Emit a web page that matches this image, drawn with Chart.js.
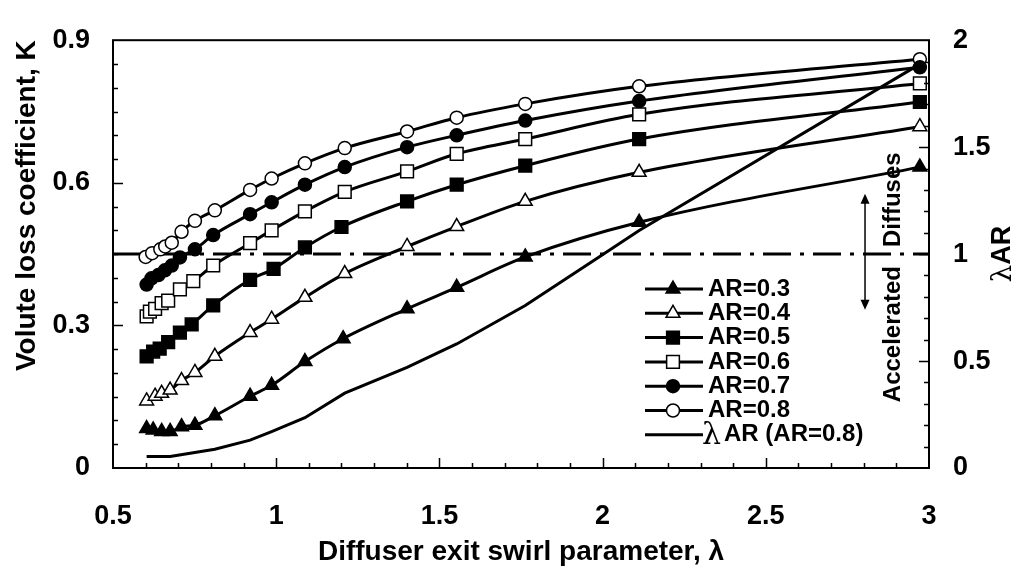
<!DOCTYPE html>
<html><head><meta charset="utf-8">
<script src="https://cdn.jsdelivr.net/npm/chart.js@4/dist/chart.umd.min.js"></script>
<style>html,body{margin:0;padding:0;background:#fff}canvas{display:block}</style>
</head><body>
<canvas id="c" width="1021" height="573"></canvas>
<script>
// ---- data ----
const lambdaAR03 = [0.603, 0.623, 0.649, 0.675, 0.710, 0.751, 0.812, 0.920, 0.986, 1.088, 1.205, 1.401, 1.553, 1.763, 2.112, 2.972];
const kAR03      = [0.083, 0.080, 0.077, 0.077, 0.087, 0.090, 0.110, 0.151, 0.174, 0.224, 0.272, 0.335, 0.380, 0.444, 0.517, 0.633];
const lambdaAR04 = [0.603, 0.629, 0.649, 0.675, 0.710, 0.751, 0.812, 0.920, 0.986, 1.088, 1.210, 1.401, 1.553, 1.763, 2.112, 2.972];
const kAR04      = [0.141, 0.151, 0.157, 0.164, 0.184, 0.201, 0.235, 0.285, 0.313, 0.359, 0.409, 0.466, 0.508, 0.561, 0.622, 0.718];
const lambdaAR05 = [0.603, 0.623, 0.643, 0.669, 0.705, 0.741, 0.807, 0.920, 0.992, 1.088, 1.200, 1.401, 1.553, 1.763, 2.112, 2.972];
const kAR05      = [0.235, 0.245, 0.251, 0.265, 0.285, 0.302, 0.342, 0.396, 0.419, 0.464, 0.507, 0.561, 0.596, 0.636, 0.692, 0.770];
const lambdaAR06 = [0.603, 0.613, 0.629, 0.649, 0.669, 0.705, 0.746, 0.807, 0.920, 0.986, 1.088, 1.210, 1.401, 1.553, 1.763, 2.112, 2.972];
const kAR06      = [0.319, 0.329, 0.335, 0.347, 0.352, 0.376, 0.393, 0.426, 0.473, 0.500, 0.540, 0.581, 0.624, 0.661, 0.692, 0.744, 0.809];
const lambdaAR07 = [0.603, 0.618, 0.639, 0.659, 0.680, 0.705, 0.751, 0.807, 0.920, 0.986, 1.088, 1.210, 1.401, 1.553, 1.763, 2.112, 2.972];
const kAR07      = [0.386, 0.399, 0.406, 0.416, 0.426, 0.443, 0.460, 0.490, 0.534, 0.559, 0.596, 0.633, 0.675, 0.700, 0.731, 0.772, 0.843];
const lambdaAR08 = [0.600, 0.620, 0.645, 0.660, 0.680, 0.710, 0.751, 0.812, 0.920, 0.986, 1.088, 1.210, 1.401, 1.553, 1.763, 2.112, 2.972];
const kAR08      = [0.444, 0.452, 0.460, 0.466, 0.474, 0.497, 0.520, 0.542, 0.585, 0.609, 0.641, 0.673, 0.708, 0.737, 0.766, 0.803, 0.860];
const lambdaLAR  = [0.603, 0.675, 0.812, 0.920, 0.986, 1.088, 1.210, 1.401, 1.553, 1.763, 1.988, 2.112, 2.972];
const valueLAR   = [0.054, 0.054, 0.088, 0.130, 0.170, 0.235, 0.350, 0.470, 0.580, 0.760, 0.985, 1.110, 1.888];

const seriesNames = ['AR=0.3', 'AR=0.4', 'AR=0.5', 'AR=0.6', 'AR=0.7', 'AR=0.8'];
const lineName = 'AR (AR=0.8)';
const xTicks = [0.5, 1, 1.5, 2, 2.5, 3];
const yTicks = [0, 0.3, 0.6, 0.9];
const y2Ticks = [0, 0.5, 1, 1.5, 2];
const dividerK = 0.45;          // lambda*AR = 1 level on left axis
const dividerX = [0.5, 3];
const arrowLambda = 2.804, arrowTopK = 0.577, arrowBottomK = 0.333, noteLambda = 2.89;
const xTitle = 'Diffuser exit swirl parameter, λ';
const yTitle = 'Volute loss coefficient, K';
const y2Title = 'AR';

// ---- chart ----
const FONT = '"Liberation Sans", Arial, sans-serif';
Chart.defaults.font.family = FONT;
Chart.defaults.color = '#000';

function pts(xs, ys) { return xs.map((x, i) => ({ x: x, y: ys[i] })); }
function markerSet(label, xs, ys, style, filled, radius) {
  return {
    label, data: pts(xs, ys), yAxisID: 'y',
    borderColor: '#000', borderWidth: 3, backgroundColor: '#000',
    pointStyle: style, pointRadius: radius, pointHoverRadius: radius,
    pointBackgroundColor: filled ? '#000' : '#fff', pointBorderColor: '#000', pointBorderWidth: 1.5,
    cubicInterpolationMode: 'monotone', fill: false, clip: false
  };
}
const datasets = [
  markerSet(seriesNames[0], lambdaAR03, kAR03, 'triangle', true, 8),
  markerSet(seriesNames[1], lambdaAR04, kAR04, 'triangle', false, 8),
  markerSet(seriesNames[2], lambdaAR05, kAR05, 'rect', true, 9),
  markerSet(seriesNames[3], lambdaAR06, kAR06, 'rect', false, 9),
  markerSet(seriesNames[4], lambdaAR07, kAR07, 'circle', true, 6.5),
  markerSet(seriesNames[5], lambdaAR08, kAR08, 'circle', false, 6.5),
  { label: lineName, data: pts(lambdaLAR, valueLAR), yAxisID: 'y2', borderColor: '#000', borderWidth: 3,
    pointRadius: 0, tension: 0, fill: false },
  { label: 'divider', data: pts(dividerX, [dividerK, dividerK]), yAxisID: 'y', borderColor: '#000', borderWidth: 3,
    borderDash: [28, 9, 4, 9], pointRadius: 0, fill: false }
];

const decor = {
  id: 'decor',
  afterDraw(chart) {
    const ctx = chart.ctx, a = chart.chartArea;
    const xs = chart.scales.x, ys = chart.scales.y, y2 = chart.scales.y2;
    ctx.save();
    ctx.strokeStyle = '#000'; ctx.fillStyle = '#000';
    // inward tick marks
    ctx.lineWidth = 1.5;
    ctx.beginPath();
    for (let i = 6; i <= 29; i++) {
      const px = Math.round(xs.getPixelForValue(i / 10)) + 0.5;
      const len = (i % 5 === 0) ? 10 : 5;
      ctx.moveTo(px, a.bottom); ctx.lineTo(px, a.bottom - len);
    }
    for (let i = 1; i <= 17; i++) {
      const py = Math.round(ys.getPixelForValue(i * 0.05)) + 0.5;
      const len = (i % 6 === 0) ? 10 : 5;
      ctx.moveTo(a.left, py); ctx.lineTo(a.left + len, py);
    }
    for (let i = 1; i <= 19; i++) {
      const py = Math.round(y2.getPixelForValue(i / 10)) + 0.5;
      const len = (i % 5 === 0) ? 10 : 5;
      ctx.moveTo(a.right, py); ctx.lineTo(a.right - len, py);
    }
    ctx.stroke();
    // frame
    ctx.lineWidth = 2;
    ctx.strokeRect(a.left, a.top, a.right - a.left, a.bottom - a.top);

    // double arrow
    const ax = xs.getPixelForValue(arrowLambda);
    const at = ys.getPixelForValue(arrowTopK), ab = ys.getPixelForValue(arrowBottomK);
    ctx.lineWidth = 1.5;
    ctx.beginPath(); ctx.moveTo(ax, at + 6); ctx.lineTo(ax, ab - 6); ctx.stroke();
    ctx.beginPath(); ctx.moveTo(ax, at); ctx.lineTo(ax - 4.5, at + 10); ctx.lineTo(ax + 4.5, at + 10); ctx.closePath(); ctx.fill();
    ctx.beginPath(); ctx.moveTo(ax, ab); ctx.lineTo(ax - 4.5, ab - 10); ctx.lineTo(ax + 4.5, ab - 10); ctx.closePath(); ctx.fill();

    // Diffuses / Accelerated
    const nx = xs.getPixelForValue(noteLambda), dy = ys.getPixelForValue(dividerK);
    ctx.font = 'bold 24px ' + FONT;
    ctx.textBaseline = 'middle';
    ctx.save(); ctx.translate(nx, dy - 7); ctx.rotate(-Math.PI / 2);
    ctx.textAlign = 'left'; ctx.fillText('Diffuses', 0, 0); ctx.restore();
    ctx.save(); ctx.translate(nx, dy + 12); ctx.rotate(-Math.PI / 2);
    ctx.textAlign = 'right'; ctx.fillText('Accelerated', 0, 0); ctx.restore();

    // right axis title (reads bottom to top)
    ctx.save(); ctx.translate(1003, (a.top + a.bottom) / 2); ctx.rotate(-Math.PI / 2);
    ctx.textBaseline = 'middle';
    ctx.font = 'bold 27px ' + FONT;
    const wA = ctx.measureText(y2Title).width;
    ctx.font = '28px "DejaVu Serif", serif';
    const wL = ctx.measureText('λ').width;
    const start = -(wA + wL) / 2;
    ctx.textAlign = 'left';
    ctx.fillText('λ', start, 1);
    ctx.font = 'bold 27px ' + FONT;
    ctx.fillText(y2Title, start + wL, 0);
    ctx.restore();

    // legend
    const lx0 = 645, lx1 = 703, mx = 673, tx = 708, ly0 = 289, dyl = 24.3;
    chart.data.datasets.forEach((ds, i) => {
      if (i > 6) return;
      const y = ly0 + i * dyl;
      ctx.lineWidth = 3; ctx.setLineDash([]); ctx.strokeStyle = '#000';
      ctx.beginPath(); ctx.moveTo(lx0, y); ctx.lineTo(lx1, y); ctx.stroke();
      if (i < 6) {
        ctx.fillStyle = ds.pointBackgroundColor; ctx.strokeStyle = '#000'; ctx.lineWidth = ds.pointBorderWidth;
        Chart.helpers.drawPoint(ctx, { pointStyle: ds.pointStyle, radius: ds.pointRadius, borderWidth: ds.pointBorderWidth, rotation: 0 }, mx, y);
        ctx.fillStyle = '#000';
        ctx.font = 'bold 24px ' + FONT; ctx.textAlign = 'left'; ctx.textBaseline = 'middle';
        ctx.fillText(ds.label, tx, y);
      } else {
        ctx.font = '30px "DejaVu Serif", serif'; ctx.textAlign = 'left'; ctx.textBaseline = 'middle';
        ctx.fillText('λ', 702, y + 1);
        const w = ctx.measureText('λ').width;
        ctx.font = 'bold 24px ' + FONT;
        ctx.fillText(ds.label, 702 + w + 3, y);
      }
    });
    ctx.restore();
  }
};

new Chart(document.getElementById('c'), {
  type: 'line',
  data: { datasets },
  options: {
    responsive: false, animation: false, devicePixelRatio: 1, events: [],
    layout: { padding: { top: 22, left: 0, right: 0, bottom: 0 } },
    plugins: { legend: { display: false }, tooltip: { enabled: false } },
    scales: {
      x: {
        type: 'linear', min: 0.5, max: 3,
        afterBuildTicks: s => { s.ticks = xTicks.map(v => ({ value: v })); },
        afterFit: s => { s.height = 105; },
        grid: { display: false, drawTicks: false }, border: { display: false },
        ticks: { font: { size: 27, weight: 'bold' }, padding: 32, maxRotation: 0, autoSkip: false, color: '#000', callback: v => String(v) },
        title: { display: true, text: xTitle, font: { size: 28, weight: 'bold' }, padding: { top: 0, bottom: 4 }, color: '#000' }
      },
      y: {
        type: 'linear', position: 'left', min: 0, max: 0.9,
        afterBuildTicks: s => { s.ticks = yTicks.map(v => ({ value: v })); },
        afterFit: s => { s.width = 113; },
        grid: { display: false, drawTicks: false }, border: { display: false },
        ticks: { font: { size: 27, weight: 'bold' }, padding: 23, color: '#000', callback: v => String(v) },
        title: { display: true, text: yTitle, align: 'end', font: { size: 28, weight: 'bold' }, padding: { top: 10, bottom: 0 }, color: '#000' }
      },
      y2: {
        type: 'linear', position: 'right', min: 0, max: 2,
        afterBuildTicks: s => { s.ticks = y2Ticks.map(v => ({ value: v })); },
        afterFit: s => { s.width = 92; },
        grid: { display: false, drawTicks: false }, border: { display: false },
        ticks: { font: { size: 27, weight: 'bold' }, padding: 24, color: '#000', callback: v => String(v) },
        title: { display: false }
      }
    }
  },
  plugins: [decor]
});
</script>
</body></html>
